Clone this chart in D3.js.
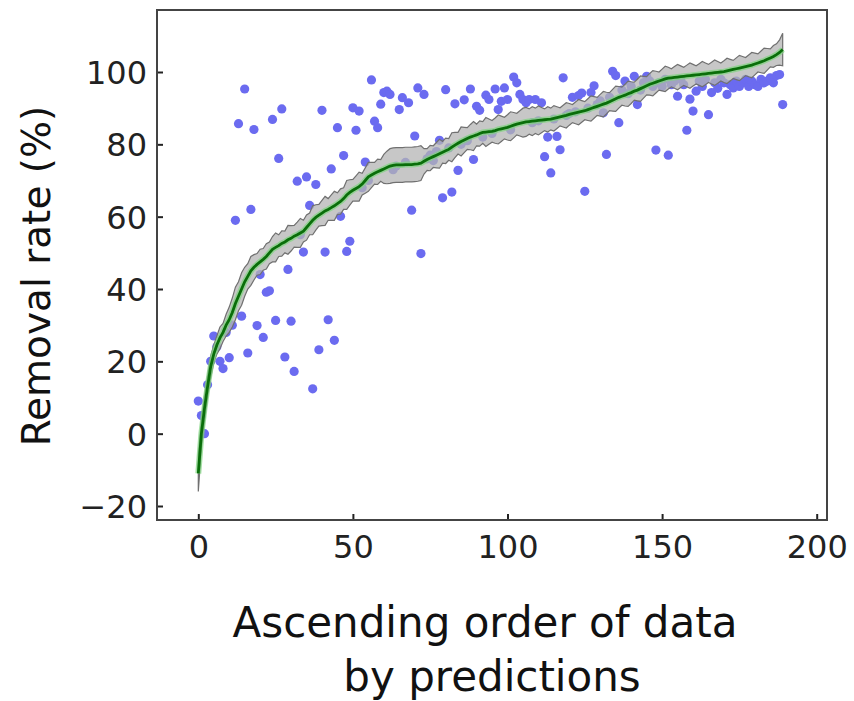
<!DOCTYPE html>
<html><head><meta charset="utf-8">
<script src="https://cdn.jsdelivr.net/npm/d3@7"></script>
<style>body{margin:0;background:#fff}svg{display:block}</style>
</head><body>
<script>
// Predicted removal rate (sorted ascending), index 0..189
const predicted = [
-11,0,7,13,18.5,22,24.5,26.5,28,30,31.5,33.5,36,38,40,42,43.5,45,46,46.8,
47.5,48.2,49,50,51,51.5,52,52.6,53,53.6,54,54.6,55,55.5,56,57,58,59,59.8,60.4,
61,61.6,62,62.5,63,63.6,64.2,65,66,66.7,67.3,67.8,68.3,69,70,71,71.5,72,72.4,72.8,
73.2,73.6,74,74.2,74.3,74.3,74.3,74.4,74.4,74.4,74.5,74.6,74.8,75.3,75.8,76.2,76.6,77,77.4,77.8,
78.2,78.6,79.2,79.8,80.3,80.8,81.2,81.6,82,82.3,82.6,83,83.3,83.4,83.5,83.6,83.8,84.1,84.3,84.5,
84.7,85,85.3,85.6,85.8,86,86.2,86.3,86.4,86.5,86.6,86.7,86.8,86.9,87,87.2,87.4,87.6,87.8,88,
88.3,88.5,88.7,88.9,89.1,89.3,89.6,89.9,90.2,90.5,90.8,91.1,91.4,91.8,92.2,92.6,93,93.3,93.6,94,
94.3,94.7,95,95.4,95.8,96.2,96.6,96.9,97.2,97.5,97.8,98.1,98.3,98.4,98.5,98.6,98.7,98.8,98.9,99,
99.1,99.2,99.3,99.4,99.5,99.6,99.7,99.8,99.9,100,100.1,100.3,100.5,100.7,100.9,101.1,101.3,101.5,101.7,101.9,
102.2,102.5,102.8,103.1,103.5,103.9,104.3,104.8,105.4,106.2
];
// Half-width of the uncertainty band around the prediction
const bandHalf = [
5,4,3.5,3,3,2.5,2.5,3,2.5,3,3.5,4,4.5,4,4.5,4,3.5,4,3.5,3,
3.5,3,3.5,3,3.5,4,3,3.5,3,4,3.5,3,3.5,4,3,3.5,3,4,3.5,3,
3.5,4,3,3.5,4,3,3.5,3,4,3.5,3,3.5,4,3,3.5,4,3.5,3,3.5,3,
4,4.5,4.8,4.8,4.8,4.8,4.8,4.8,4.8,4.8,4.8,4.8,4.8,3.5,3,3.5,3,3.5,4,3,
3.5,3,4,3.5,3,4,3.5,3,3.5,4,3,3.5,3,4,3.5,3,3.5,4,3.5,3,
3.5,4,3.5,3,3.5,4,4,3.5,4,3.5,4,3.5,3,3.5,3,3.5,3,2.5,3,3.5,
3,2.5,3,3.5,3,2.5,3,3.5,3,2.5,3,3.5,3,2.5,3,3.5,3,2.5,3,3.5,
3,2.5,3,3.5,3,2.5,3,3.5,3,2.5,3,3.5,3,2.5,3,3.5,3,2.5,3,3.5,
3,2.5,3,3.5,3,2.5,3,3.5,3,2.5,3,3.5,3,2.5,3,3.5,3,2.5,3,3.5,
3,2.5,3,3.5,3,2.5,3,3,3.5,4.5
];
// Measured removal rate for each sample (same order)
const measured = [
9,5,0,13.5,20,27,24,20,18,28,21,30,59,85.7,32.5,95.3,22.3,62,84.1,29.9,
44,26.6,39.1,39.5,86.9,31.3,76.1,89.8,21.2,45.4,31.1,17.2,69.8,55,50.2,71,63.1,12.4,68.9,23.2,
89.4,50.2,31.5,73.2,25.8,84.6,60.1,76.9,50.4,53.2,90.1,83.9,89.2,68,75.1,70,97.8,86.4,84.6,91.1,
94.3,94.7,93.8,73,74,89.6,92.9,75,91.5,61.8,82.3,95.6,49.8,93.8,76,77,75.5,78,81.1,65.2,
95.1,79,66.8,91.2,72.8,80,92.3,81,95.3,75.8,90.5,89.4,82,93.6,92.4,83,95.3,89.6,91.9,95.6,
92.4,84,98.6,97,93.8,92.4,91.5,92.4,86,92.4,86.5,91.5,76.6,82,72.1,87,82.2,78.5,98.4,88,
88.5,93,89,93.5,94.2,67,90,94.3,96.2,91,92,88.7,77.2,93,100.2,99,86,95,97.5,94,
96,98.8,91,95,97,98.8,97.5,96,78.4,97,96,98,77,96.5,97.5,93.3,98,96.5,83.9,92.5,
89.2,94.7,97.5,96,98,88.2,94.3,97,95.5,98,97,93.8,96.5,95.6,97.5,96,97,98,96,97.5,
96.5,96,98,97,97.5,98.4,97,99,99.3,91
];
const xTicks = [0,50,100,150,200];
const yTicks = [-20,0,20,40,60,80,100];
const xTitle = "Ascending order of data";
const xTitle2 = "by predictions";
const yTitle = "Removal rate (%)";

const W = 854, H = 701;
const svg = d3.select("body").append("svg").attr("width", W).attr("height", H);
const frame = {left:157, top:10, right:827, bottom:520};
const x = d3.scaleLinear().domain([0,200]).range([198.3, 816.7]);
const y = d3.scaleLinear().domain([-20,100]).range([506, 72]);
const font = "DejaVu Sans, Verdana, sans-serif";

const idx = d3.range(predicted.length);

// scatter
svg.append("g").selectAll("circle").data(idx).join("circle")
  .attr("cx", i => x(i)).attr("cy", i => y(measured[i]))
  .attr("r", 4.6).attr("fill", "#6b6bf0");

// band
const area = d3.area().x(i => x(i))
  .y0(i => y(predicted[i] - bandHalf[i])).y1(i => y(predicted[i] + bandHalf[i]));
svg.append("path").datum(idx).attr("d", area)
  .attr("fill", "#b4b4b4").attr("fill-opacity", 0.75)
  .attr("stroke", "#707070").attr("stroke-width", 1.2);

// prediction line
const line = d3.line().x(i => x(i)).y(i => y(predicted[i]));
svg.append("path").datum(idx).attr("d", line)
  .attr("fill", "none").attr("stroke", "#7fd47f").attr("stroke-width", 6).attr("stroke-opacity", 0.7);
svg.append("path").datum(idx).attr("d", line)
  .attr("fill", "none").attr("stroke", "#0a6e0a").attr("stroke-width", 2.8);

// axes
const fmt = d => d < 0 ? "\u2212" + Math.abs(d) : String(d);
const gx = svg.append("g").attr("transform", `translate(0,${frame.bottom})`)
  .call(d3.axisBottom(x).tickValues(xTicks).tickFormat(fmt).tickSizeInner(-6).tickSizeOuter(0).tickPadding(15));
const gy = svg.append("g").attr("transform", `translate(${frame.left},0)`)
  .call(d3.axisLeft(y).tickValues(yTicks).tickFormat(fmt).tickSizeInner(-6).tickSizeOuter(0).tickPadding(10));
[gx, gy].forEach(g => {
  g.select(".domain").remove();
  g.selectAll(".tick line").attr("stroke", "#222").attr("stroke-width", 2);
  g.selectAll(".tick text").attr("fill", "#222").style("font-family", font).style("font-size", "32px");
});
gy.selectAll(".tick text").attr("dy", "0.36em");

svg.append("rect").attr("x", frame.left).attr("y", frame.top)
  .attr("width", frame.right - frame.left).attr("height", frame.bottom - frame.top)
  .attr("fill", "none").attr("stroke", "#444").attr("stroke-width", 2);

// titles
svg.append("text").attr("x", 485).attr("y", 637).attr("text-anchor", "middle")
  .style("font-family", font).style("font-size", "42px").attr("fill", "#111").text(xTitle);
svg.append("text").attr("x", 492).attr("y", 691).attr("text-anchor", "middle")
  .style("font-family", font).style("font-size", "42px").attr("fill", "#111").text(xTitle2);
svg.append("text").attr("transform", "translate(50,276) rotate(-90)").attr("text-anchor", "middle")
  .style("font-family", font).style("font-size", "39px").attr("fill", "#111").text(yTitle);
</script>
</body></html>
